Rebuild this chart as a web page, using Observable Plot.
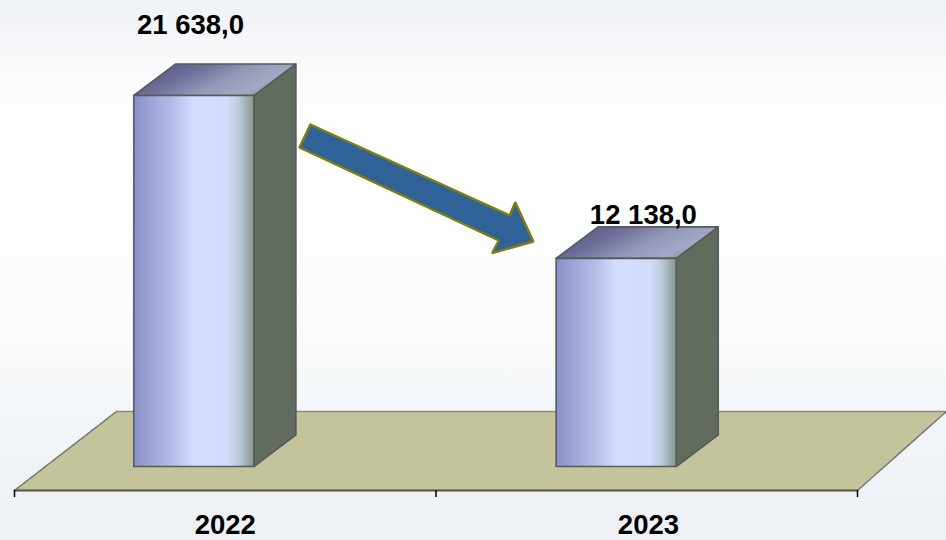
<!DOCTYPE html>
<html>
<head>
<meta charset="utf-8">
<script src="https://cdn.jsdelivr.net/npm/d3@7"></script>
<script src="https://cdn.jsdelivr.net/npm/@observablehq/plot@0.6"></script>
<style>
html,body{margin:0;padding:0;background:#f0f3f7;}
</style>
</head>
<body>
<div id="chart"></div>
<script>
const years = ["2022", "2023"];
const values = [21638, 12138];
const valueLabels = ["21 638,0", "12 138,0"];
const barStart = [0.283, 1.285];
const labelX = [0.4176, 1.492];
const labelY = [25720, 14639];
const arrowX = [0.702, 1.175, 1.188, 1.231, 1.133, 1.149, 0.676];
const arrowY = [19946, 14639, 15414, 13123, 12440, 13181, 18605];
const floorX = [0, 2, 2.211, 0.242];
const floorY = [-1400, -1400, 3208, 3208];
const barWidth = 0.285;
const depthX = 0.0996;
const depthY = 1840;

function face(xs, ys, options) {
  const pts = xs.map((x, i) => ({x, y: ys[i]}));
  pts.push(pts[0]);
  return Plot.line(pts, {x: "x", y: "y", strokeLinejoin: "round", ...options});
}

function defs() {
  const d = d3.create("svg:defs");
  const grad = (id, stops, attrs) => {
    const g = d.append("linearGradient").attr("id", id);
    Object.entries(attrs).forEach(([k, v]) => g.attr(k, v));
    stops.forEach(([o, c]) => g.append("stop").attr("offset", o).attr("stop-color", c));
  };
  grad("front", [[0, "#8b8fc9"], [0.12, "#9ba0d3"], [0.35, "#b9c0eb"], [0.5, "#d3deff"], [0.78, "#d2ddfb"], [0.88, "#b9c9d8"], [1, "#84978a"]], {x1: 0, x2: 1, y1: 0, y2: 0});
  grad("top", [[0, "#55558a"], [0.3, "#6f6f9a"], [0.55, "#9298b6"], [0.8, "#a3a9c5"], [0.9, "#8a93a6"], [1, "#626c5e"]], {x1: 0, x2: 1, y1: 0.3, y2: 0.7});
  return d.node();
}

const bars = years.flatMap((year, i) => {
  const x0 = barStart[i], x1 = x0 + barWidth, v = values[i];
  const edge = {stroke: "#565a5a", strokeWidth: 1.6};
  return [
    face([x1, x1 + depthX, x1 + depthX, x1], [0, depthY, v + depthY, v], {fill: "#626c5e", ...edge}),
    face([x0, x1, x1 + depthX, x0 + depthX], [v, v, v + depthY, v + depthY], {fill: "url(#top)", ...edge}),
    face([x0, x1, x1, x0], [0, 0, v, v], {fill: "url(#front)", ...edge})
  ];
});

const labelRows = years.map((y, i) => ({x: labelX[i], y: labelY[i], text: valueLabels[i]}));
const font = {fontFamily: "Liberation Sans", fontWeight: "bold", fontSize: 27.5};

const chart = Plot.plot({
  width: 946,
  height: 540,
  marginLeft: 14,
  marginRight: 89,
  marginTop: 0,
  marginBottom: 50,
  style: {background: "linear-gradient(#eff2f6 0%, #fbfcfd 16%, #ffffff 30%, #f9fbfc 62%, #eff3f7 88%, #edf1f6 100%)", fontFamily: "Liberation Sans"},
  x: {domain: [0, 2], axis: null},
  y: {domain: [-1400, 27179], axis: null},
  marks: [
    defs,
    face(floorX, floorY, {fill: "#c3c49c", stroke: "none"}),
    Plot.line([{x: floorX[3], y: floorY[3]}, {x: floorX[2], y: floorY[2]}], {x: "x", y: "y", stroke: "#8a8a7e", strokeWidth: 1.5}),
    Plot.line([{x: floorX[0], y: floorY[0]}, {x: floorX[3], y: floorY[3]}], {x: "x", y: "y", stroke: "#77776e", strokeWidth: 1.5, strokeDasharray: "5 1"}),
    Plot.line([{x: floorX[1], y: floorY[1]}, {x: floorX[2], y: floorY[2]}], {x: "x", y: "y", stroke: "#77776e", strokeWidth: 1.5, strokeDasharray: "5 1"}),
    Plot.line([{x: floorX[0], y: floorY[0]}, {x: floorX[1], y: floorY[1]}], {x: "x", y: "y", stroke: "#55553f", strokeWidth: 2}),
    ...bars,
    face(arrowX, arrowY, {fill: "#2f6398", stroke: "#7f7f10", strokeWidth: 2.4, strokeLinejoin: "miter"}),
    Plot.axisX({ticks: [0, 1, 2], tickSize: 7, tickFormat: () => "", stroke: "#000", strokeWidth: 1.5, anchor: "bottom", label: null}),
    Plot.axisX({ticks: [0.5, 1.504], tickSize: 0, tickPadding: 24, tickFormat: d => years[Math.floor(d)], anchor: "bottom", label: null, fill: "#000", stroke: "none", ...font}),
    Plot.text(labelRows, {x: "x", y: "y", text: "text", fill: "#000", ...font})
  ]
});
document.getElementById("chart").appendChild(chart);
</script>
</body>
</html>
